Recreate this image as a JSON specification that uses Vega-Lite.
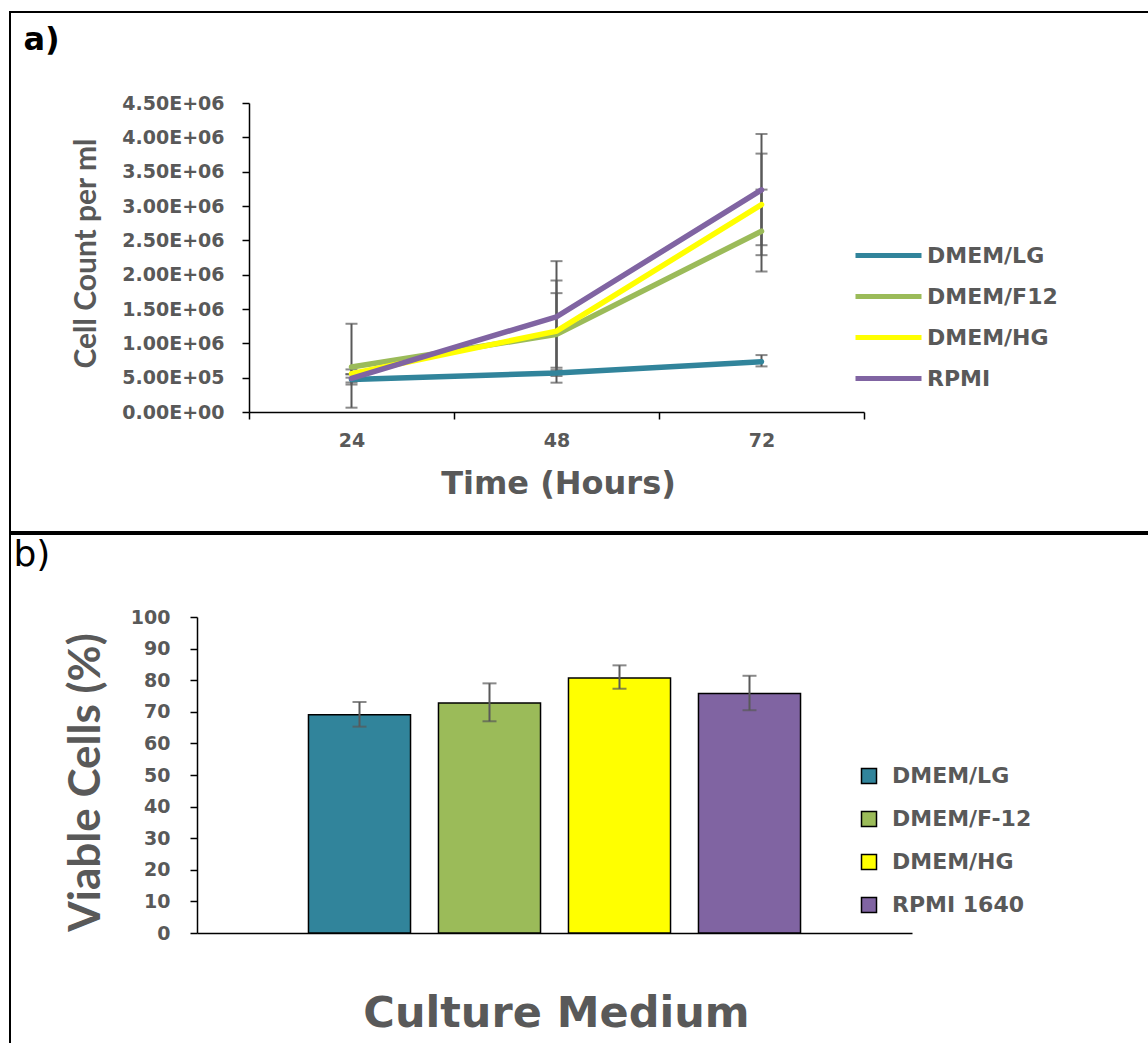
{
  "$schema": "https://vega.github.io/schema/vega-lite/v6.json",
  "background": "white",
  "padding": {"left": 9, "top": 11, "right": -4, "bottom": -4},
  "spacing": 0,
  "resolve": {
    "scale": {"color": "independent", "fill": "independent"},
    "legend": {"color": "independent", "fill": "independent"}
  },
  "config": {
    "view": {"stroke": "#000000", "strokeWidth": 2},
    "axis": {
      "grid": false,
      "domainColor": "#000000",
      "domainWidth": 1.5,
      "tickColor": "#000000",
      "tickWidth": 1.5,
      "labelColor": "#595959",
      "titleColor": "#595959",
      "labelFont": "DejaVu Sans",
      "labelFontWeight": "bold",
      "titleFont": "DejaVu Sans",
      "titleFontWeight": "bold"
    },
    "legend": {
      "labelFont": "DejaVu Sans",
      "labelFontWeight": "bold",
      "labelColor": "#595959",
      "labelFontSize": 22
    }
  },
  "datasets": {
    "growth": [
      {"series": "DMEM/LG", "time": 24, "count": 475000, "lo": 400000, "hi": 550000},
      {"series": "DMEM/LG", "time": 48, "count": 567000, "lo": 524000, "hi": 610000},
      {"series": "DMEM/LG", "time": 72, "count": 732000, "lo": 664000, "hi": 829000},
      {"series": "DMEM/F12", "time": 24, "count": 655000, "lo": 63000, "hi": 1285000},
      {"series": "DMEM/F12", "time": 48, "count": 1130000, "lo": 427000, "hi": 1915000},
      {"series": "DMEM/F12", "time": 72, "count": 2633000, "lo": 2046000, "hi": 3239000},
      {"series": "DMEM/HG", "time": 24, "count": 558000, "lo": 500000, "hi": 620000},
      {"series": "DMEM/HG", "time": 48, "count": 1178000, "lo": 645000, "hi": 1731000},
      {"series": "DMEM/HG", "time": 72, "count": 3021000, "lo": 2284000, "hi": 3763000},
      {"series": "RPMI", "time": 24, "count": 490000, "lo": 430000, "hi": 550000},
      {"series": "RPMI", "time": 48, "count": 1387000, "lo": 580000, "hi": 2197000},
      {"series": "RPMI", "time": 72, "count": 3234000, "lo": 2429000, "hi": 4049000}
    ],
    "viability": [
      {"medium": "DMEM/LG", "viable": 69.1, "lo": 65.3, "hi": 73.1},
      {"medium": "DMEM/F-12", "viable": 72.8, "lo": 67.0, "hi": 79.0},
      {"medium": "DMEM/HG", "viable": 80.7, "lo": 77.3, "hi": 84.7},
      {"medium": "RPMI 1640", "viable": 75.8, "lo": 70.5, "hi": 81.4}
    ]
  },
  "vconcat": [
    {
      "width": 1142,
      "height": 520,
      "data": {"name": "growth"},
      "resolve": {"scale": {"y": "independent"}},
      "encoding": {
        "x": {
          "field": "time", "type": "ordinal",
          "scale": {"domain": [24, 48, 72], "range": [239, 854], "paddingInner": 0, "paddingOuter": 0},
          "axis": {
            "title": "Time (Hours)", "offset": -120, "tickBand": "extent", "tickSize": 7,
            "labelAngle": 0, "labelFontSize": 19, "labelPadding": 12,
            "titleFontSize": 32, "titleX": 548, "titleY": 71, "titleBaseline": "middle", "titleAlign": "center"
          }
        }
      },
      "layer": [
        {
          "encoding": {
            "y": {
              "field": "lo", "type": "quantitative",
              "scale": {"domain": [0, 4500000], "range": [400, 91], "nice": false},
              "axis": {
                "orient": "right", "title": "a)", "labels": false, "ticks": false, "domain": false,
                "titleAngle": 0, "titleX": -1129, "titleY": 37, "titleAlign": "left", "titleBaseline": "alphabetic",
                "titleFontSize": 32, "titleColor": "#000000", "titleFontWeight": "bold"
              }
            }
          },
          "layer": [
            {
              "mark": {"type": "rule", "color": "#595959", "strokeWidth": 2},
              "encoding": {"y2": {"field": "hi"}}
            },
            {
              "mark": {"type": "tick", "color": "#595959", "thickness": 2, "size": 12},
              "encoding": {}
            },
            {
              "mark": {"type": "tick", "color": "#595959", "thickness": 2, "size": 12},
              "encoding": {
                "y": {
                  "field": "hi", "type": "quantitative",
                  "scale": {"domain": [0, 4500000], "range": [400, 91], "nice": false}
                }
              }
            }
          ]
        },
        {
          "mark": {"type": "line", "strokeWidth": 5.5, "strokeCap": "round"},
          "encoding": {
            "y": {
              "field": "count", "type": "quantitative",
              "scale": {"domain": [0, 4500000], "range": [400, 91], "nice": false},
              "axis": {
                "orient": "left", "title": "Cell Count per ml", "offset": -239,
                "values": [0, 500000, 1000000, 1500000, 2000000, 2500000, 3000000, 3500000, 4000000, 4500000],
                "labelExpr": "datum.value == 0 ? '0.00E+00' : datum.value < 1000000 ? format(datum.value / 100000, '.2f') + 'E+05' : format(datum.value / 1000000, '.2f') + 'E+06'",
                "tickSize": 7, "labelPadding": 18, "labelFontSize": 19,
                "titleFont": "Lato", "titleFontSize": 30, "titleAngle": -90,
                "titleX": -163, "titleY": 241, "titleAlign": "center", "titleBaseline": "middle"
              }
            },
            "color": {
              "field": "series", "type": "nominal",
              "scale": {"domain": ["DMEM/LG", "DMEM/F12", "DMEM/HG", "RPMI"], "range": ["#31849B", "#9BBB59", "#FFFF00", "#8064A2"]},
              "legend": {
                "title": null, "orient": "none", "legendX": 865, "legendY": 230,
                "symbolType": "M-3,0H3", "symbolSize": 484, "symbolStrokeWidth": 5,
                "rowPadding": 16, "labelOffset": 25, "labelFontSize": 22
              }
            }
          }
        }
      ]
    },
    {
      "width": 1142,
      "height": 515,
      "data": {"name": "viability"},
      "resolve": {"scale": {"y": "independent"}},
      "encoding": {
        "x": {
          "field": "medium", "type": "nominal",
          "scale": {"domain": ["DMEM/LG", "DMEM/F-12", "DMEM/HG", "RPMI 1640"], "range": [187, 902], "paddingInner": 0.215, "paddingOuter": 0.8575},
          "axis": {
            "title": "Culture Medium", "offset": -116, "labels": false, "ticks": false,
            "titleFontSize": 43, "titleX": 546, "titleY": 80, "titleBaseline": "middle", "titleAlign": "center"
          }
        }
      },
      "layer": [
        {
          "mark": {"type": "bar", "stroke": "#000000", "strokeWidth": 1.5},
          "encoding": {
            "y": {
              "field": "viable", "type": "quantitative",
              "scale": {"domain": [0, 100], "range": [399, 83], "nice": false},
              "axis": {
                "orient": "left", "title": "Viable Cells (%)", "offset": -187,
                "values": [0, 10, 20, 30, 40, 50, 60, 70, 80, 90, 100],
                "tickSize": 7, "labelPadding": 20, "labelFontSize": 19,
                "titleFont": "Lato", "titleFontSize": 44, "titleAngle": -90,
                "titleX": -111, "titleY": 248, "titleAlign": "center", "titleBaseline": "middle"
              }
            },
            "fill": {
              "field": "medium", "type": "nominal",
              "scale": {"domain": ["DMEM/LG", "DMEM/F-12", "DMEM/HG", "RPMI 1640"], "range": ["#31849B", "#9BBB59", "#FFFF00", "#8064A2"]},
              "legend": {
                "title": null, "orient": "none", "legendX": 848, "legendY": 231,
                "symbolType": "square", "symbolSize": 225, "rowPadding": 21, "labelOffset": 12, "labelFontSize": 22,
                "symbolStrokeColor": "#000000", "symbolStrokeWidth": 1.5,
                "encode": {"symbols": {"update": {"stroke": {"value": "#000000"}, "strokeWidth": {"value": 1.5}}}}
              }
            }
          }
        },
        {
          "encoding": {
            "y": {
              "field": "lo", "type": "quantitative",
              "scale": {"domain": [0, 100], "range": [399, 83], "nice": false},
              "axis": {
                "orient": "right", "title": "b)", "labels": false, "ticks": false, "domain": false,
                "titleAngle": 0, "titleX": -1139, "titleY": 31, "titleAlign": "left", "titleBaseline": "alphabetic",
                "titleFont": "DejaVu Sans", "titleFontSize": 36, "titleColor": "#000000", "titleFontWeight": "normal"
              }
            }
          },
          "layer": [
            {
              "mark": {"type": "rule", "color": "#595959", "strokeWidth": 2},
              "encoding": {"y2": {"field": "hi"}}
            },
            {
              "mark": {"type": "tick", "color": "#595959", "thickness": 2, "size": 14},
              "encoding": {}
            },
            {
              "mark": {"type": "tick", "color": "#595959", "thickness": 2, "size": 14},
              "encoding": {
                "y": {
                  "field": "hi", "type": "quantitative",
                  "scale": {"domain": [0, 100], "range": [399, 83], "nice": false}
                }
              }
            }
          ]
        }
      ]
    }
  ]
}
